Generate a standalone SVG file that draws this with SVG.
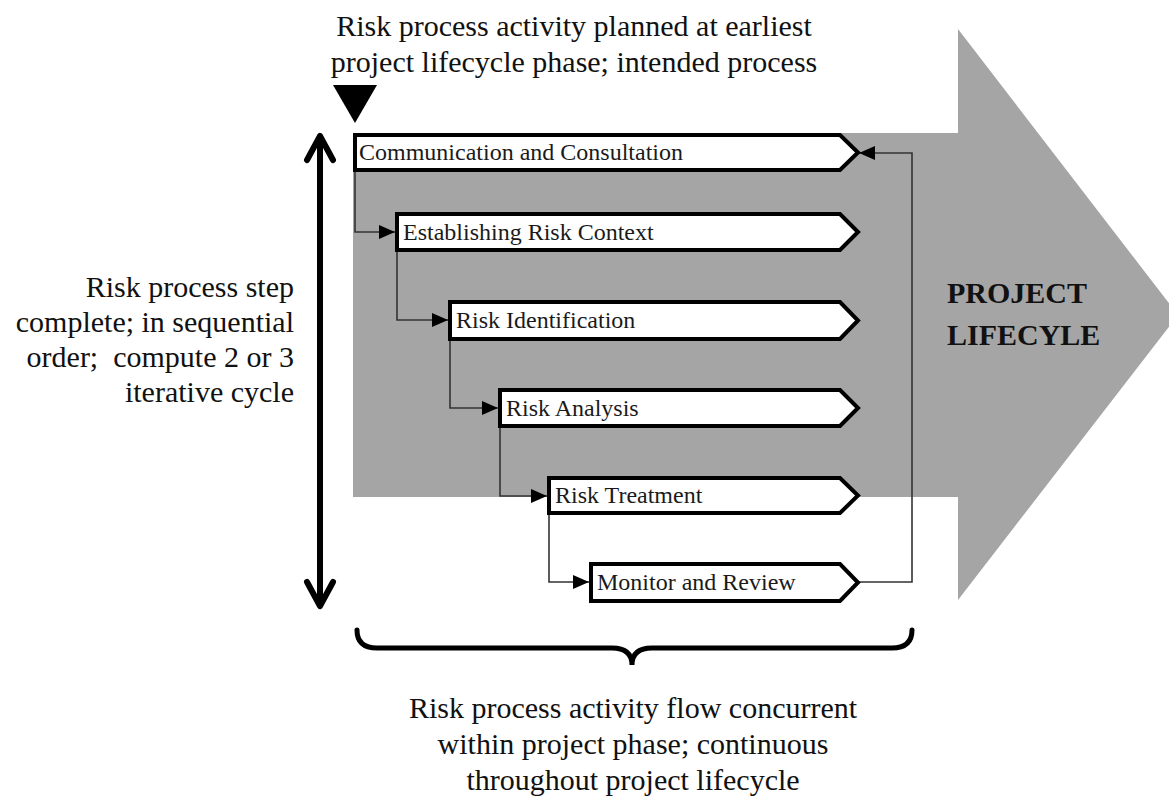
<svg xmlns="http://www.w3.org/2000/svg" width="1169" height="796" viewBox="0 0 1169 796">
  <style>
    .label { font-family: "Liberation Serif", "Times New Roman", serif; font-size: 30px; fill: #111; }
    .title { font-family: "Liberation Serif", "Times New Roman", serif; font-size: 30px; font-weight: bold; fill: #111; }
    .step { fill: #fff; stroke: #000; stroke-width: 4; stroke-linejoin: miter; }
    .step-text { font-family: "Liberation Serif", "Times New Roman", serif; font-size: 24px; fill: #1a1a1a; }
    .conn { fill: none; stroke: #333; stroke-width: 1.6; marker-end: url(#head); }
    .bold-line { fill: none; stroke: #000; stroke-width: 6; stroke-linecap: round; stroke-linejoin: round; }
  </style>
  <defs>
    <marker id="head" viewBox="0 0 16 14" refX="16" refY="7" markerWidth="16" markerHeight="14" markerUnits="userSpaceOnUse" orient="auto">
      <path d="M0,0 L16,7 L0,14 z" fill="#000"/>
    </marker>
  </defs>

  <rect width="1169" height="796" fill="#fff"/>

  <!-- project lifecycle block arrow -->
  <g id="lifecycle">
    <polygon points="353,133 958,133 958,29 1178,315 958,600 958,497 353,497" fill="#a5a5a5"/>
    <text class="title" x="947" y="303">PROJECT</text>
    <text class="title" x="947" y="345">LIFECYLE</text>
  </g>

  <!-- start marker -->
  <g id="start-marker">
    <polygon points="333,85 377,85 355,123" fill="#000"/>
  </g>

  <!-- step sequence -->
  <g id="connectors">
    <path class="conn" d="M355,172 V232 H395"/>
    <path class="conn" d="M397,252 V320 H448"/>
    <path class="conn" d="M450,341 V408 H498"/>
    <path class="conn" d="M500,428 V496 H547"/>
    <path class="conn" d="M549,515 V582 H589"/>
    <path class="conn" d="M858,582 H912 V153 H859"/>
  </g>

  <g id="step-communication">
    <polygon class="step" points="355,135 840,135 858,152.5 840,170 355,170"/>
    <text class="step-text" x="359" y="160">Communication and Consultation</text>
  </g>
  <g id="step-context">
    <polygon class="step" points="397,214 840,214 858,232 840,250 397,250"/>
    <text class="step-text" x="403" y="240">Establishing Risk Context</text>
  </g>
  <g id="step-identification">
    <polygon class="step" points="450,302 840,302 858,320.5 840,339 450,339"/>
    <text class="step-text" x="456" y="328">Risk Identification</text>
  </g>
  <g id="step-analysis">
    <polygon class="step" points="500,390 840,390 858,408 840,426 500,426"/>
    <text class="step-text" x="506" y="416">Risk Analysis</text>
  </g>
  <g id="step-treatment">
    <polygon class="step" points="549,478 840,478 858,495.5 840,513 549,513"/>
    <text class="step-text" x="555" y="503">Risk Treatment</text>
  </g>
  <g id="step-monitor">
    <polygon class="step" points="591,564 840,564 858,582.5 840,601 591,601"/>
    <text class="step-text" x="597" y="590">Monitor and Review</text>
  </g>

  <!-- sequential axis -->
  <g id="sequence-axis">
    <path class="bold-line" d="M320,138 V604"/>
    <path class="bold-line" d="M307,160 L320,136 L333,160"/>
    <path class="bold-line" d="M307,582 L320,606 L333,582"/>
  </g>

  <!-- concurrency brace -->
  <g id="concurrency-brace">
    <path fill="none" stroke="#000" stroke-width="5" stroke-linecap="round"
          d="M357,630 Q357,648 377,648 L612,648 Q632,648 632,665 Q632,648 652,648 L892,648 Q912,648 912,630"/>
  </g>

  <!-- annotations -->
  <g id="label-top">
    <text class="label" x="574" y="36" text-anchor="middle">Risk process activity planned at earliest</text>
    <text class="label" x="574" y="72" text-anchor="middle">project lifecycle phase; intended process</text>
  </g>
  <g id="label-left">
    <text class="label" x="294" y="297" text-anchor="end">Risk process step</text>
    <text class="label" x="294" y="332" text-anchor="end">complete; in sequential</text>
    <text class="label" x="294" y="367" text-anchor="end" xml:space="preserve">order;  compute 2 or 3</text>
    <text class="label" x="294" y="402" text-anchor="end">iterative cycle</text>
  </g>
  <g id="label-bottom">
    <text class="label" x="633" y="718" text-anchor="middle">Risk process activity flow concurrent</text>
    <text class="label" x="633" y="754" text-anchor="middle">within project phase; continuous</text>
    <text class="label" x="633" y="790" text-anchor="middle">throughout project lifecycle</text>
  </g>
</svg>
